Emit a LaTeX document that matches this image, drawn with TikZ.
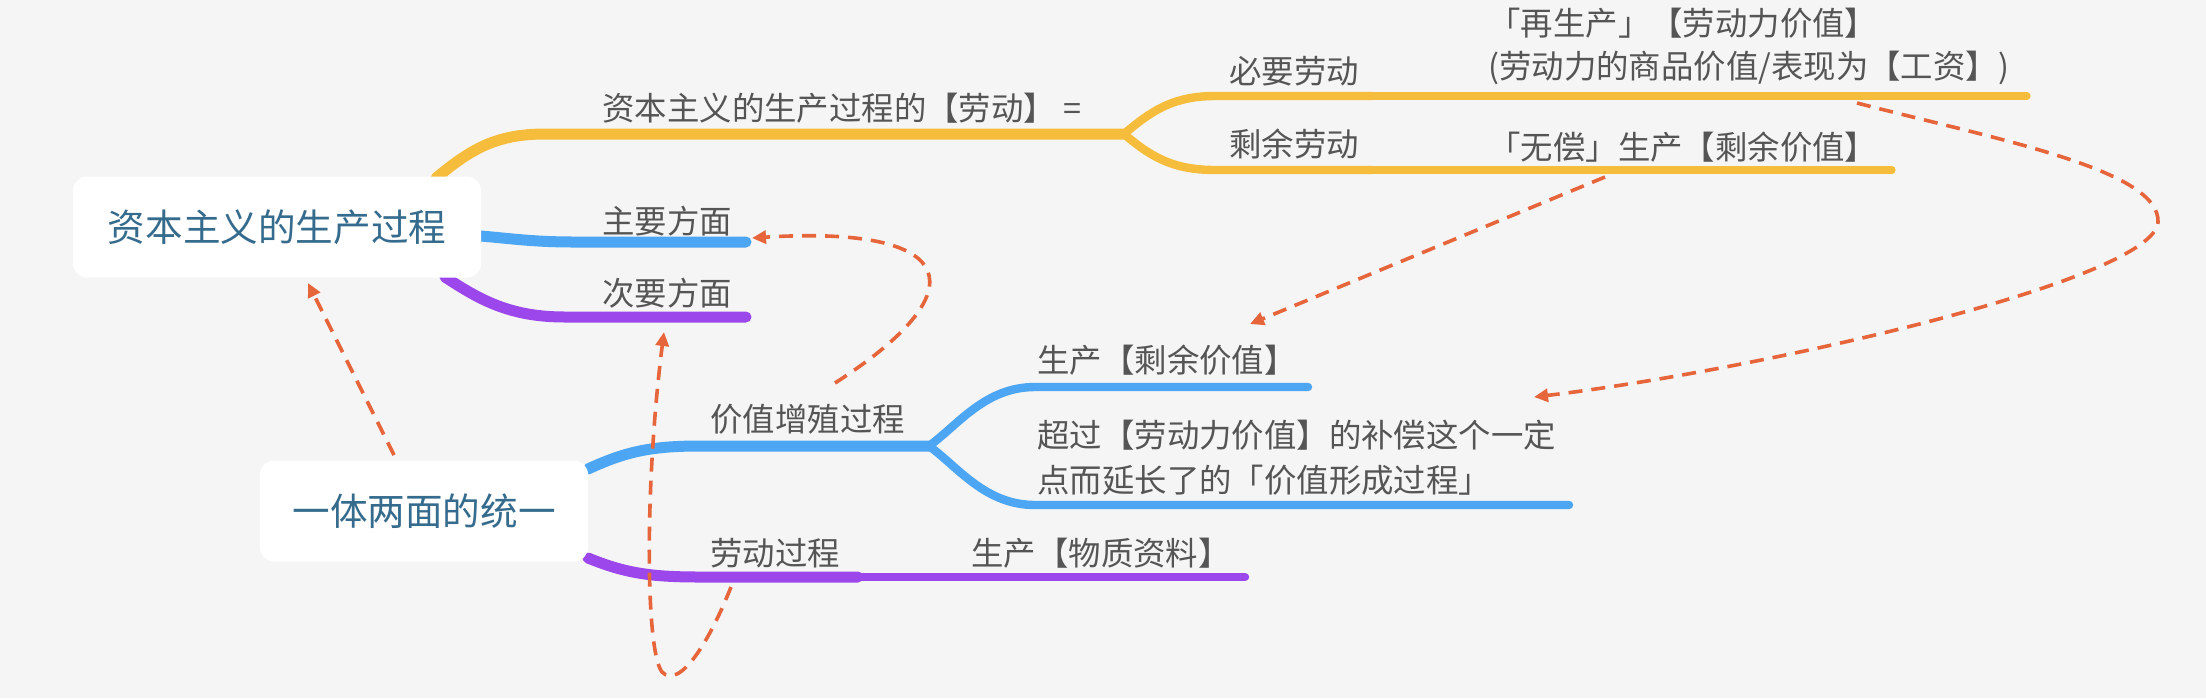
\documentclass[tikz,border=0pt]{standalone}
\usepackage{fontspec}
\setmainfont{Noto Sans CJK SC}
\usetikzlibrary{arrows.meta}
\definecolor{bgc}{HTML}{F5F5F5}
\definecolor{cyel}{HTML}{F6BD3D}
\definecolor{cblue}{HTML}{4DA6F3}
\definecolor{cpur}{HTML}{9B47EC}
\definecolor{corg}{HTML}{E6653B}
\definecolor{ctxt}{HTML}{555555}
\definecolor{croot}{HTML}{356B8C}
\pgfdeclarelayer{bg}
\pgfsetlayers{bg,main}
\begin{document}
\begin{tikzpicture}[x=0.5pt,y=-0.5pt,
  rootbox/.style={fill=white, rounded corners=7pt, inner sep=0pt, text=croot,
    font=\fontsize{18.8}{22}\selectfont},
  lbl/.style={anchor=west, inner sep=0pt, text=ctxt, font=\fontsize{16.2}{21.5}\selectfont},
  lone/.style={line width=5.5pt, line cap=round},
  ltwo/.style={line width=4.2pt, line cap=round},
  lthree/.style={line width=3.6pt, line cap=round},
  rel/.style={corg, line width=1.8pt, dash pattern=on 7pt off 4.5pt,
    -{Triangle[length=7pt,width=6.5pt]}},
]
\begin{pgfonlayer}{bg}
\fill[bgc] (0,0) rectangle (2206,698);
\end{pgfonlayer}
\useasboundingbox (0,0) rectangle (2206,698);

% root topics
\node[rootbox, minimum width=204pt, minimum height=50.5pt] (r1) at (277,227) {资本主义的生产过程};
\node[rootbox, minimum width=164pt, minimum height=50.5pt] (r2) at (424,511) {一体两面的统一};

% labels
\node[lbl] (llab) at (602,108) {资本主义的生产过程的【劳动】 =};
\node[lbl] (lnec) at (1229,71) {必要劳动};
\node[lbl] (lsur) at (1229,144) {剩余劳动};
\node[lbl, align=left] (lrep) at (1488,46.5) {「再生产」【劳动力价值】\\(劳动力的商品价值/表现为【工资】)};
\node[lbl] (lfree) at (1488,147) {「无偿」生产【剩余价值】};
\node[lbl] (lmain) at (602,221) {主要方面};
\node[lbl] (lsec) at (602,293) {次要方面};
\node[lbl] (lval) at (710,419) {价值增殖过程};
\node[lbl] (lsv) at (1037,360) {生产【剩余价值】};
\node[lbl, align=left, font=\fontsize{16.2}{22.5}\selectfont] (lext) at (1037,457.5) {超过【劳动力价值】的补偿这个一定\\点而延长了的「价值形成过程」};
\node[lbl] (lwork) at (710,553) {劳动过程};
\node[lbl] (lmat) at (971,553) {生产【物质资料】};

% branch points
\coordinate (ys) at (436,178);
\coordinate (yf) at (1124,134);
\coordinate (ya) at (1372,96);
\coordinate (yae) at (2027,96);
\coordinate (yb) at (1372,170);
\coordinate (ybe) at (1892,170);
\coordinate (bs) at (481,236);
\coordinate (be) at (746,242);
\coordinate (ps) at (445,277);
\coordinate (pe) at (746,317);
\coordinate (cs) at (588,469);
\coordinate (cf) at (929,446);
\coordinate (cue) at (1308,387);
\coordinate (cde) at (1569,505);
\coordinate (ds) at (588,558);
\coordinate (dm) at (858,577);
\coordinate (de) at (1245,577);

\begin{pgfonlayer}{bg}
% yellow
\draw[cyel, lone] (ys) .. controls (470,150) and (495,134) .. (545,134) -- (yf);
\draw[cyel, ltwo] (yf) .. controls (1150,112) and (1172,96) .. (1215,96) -- (ya);
\draw[cyel, lthree] (ya) -- (yae);
\draw[cyel, ltwo] (yf) .. controls (1150,156) and (1172,170) .. (1215,170) -- (yb);
\draw[cyel, lthree] (yb) -- (ybe);
% blue / purple from root 1
\draw[cblue, lone] (bs) .. controls (515,239) and (535,242) .. (575,242) -- (be);
\draw[cpur, lone] (ps) .. controls (480,300) and (510,317) .. (565,317) -- (pe);
% root 2
\draw[cblue, lone] (cs) .. controls (625,452) and (650,446) .. (700,446) -- (cf);
\draw[cblue, ltwo] (cf) .. controls (958,425) and (985,387) .. (1035,387) -- (cue);
\draw[cblue, ltwo] (cf) .. controls (958,467) and (985,505) .. (1035,505) -- (cde);
\draw[cpur, lone] (ds) .. controls (625,573) and (650,577) .. (700,577) -- (dm);
\draw[cpur, ltwo] (dm) -- (de);
\end{pgfonlayer}

% relation arrows
\coordinate (a1s) at (394,455);
\coordinate (a1e) at (308,283);
\coordinate (a2s) at (835,383);
\coordinate (a2e) at (752,238);
\coordinate (a3s) at (731,587);
\coordinate (a3m) at (662,672);
\coordinate (a3e) at (664,332);
\coordinate (a4s) at (1605,177);
\coordinate (a4e) at (1250,324);
\coordinate (a5s) at (1857,103);
\coordinate (a5m) at (2158,222);
\coordinate (a5e) at (1534,397);

\draw[rel] (a1s) -- (a1e);
\draw[rel] (a2s) .. controls (980,290) and (960,225) .. (a2e);
\draw[rel] (a3s) .. controls (710,640) and (680,690) .. (a3m) .. controls (645,650) and (645,480) .. (a3e);
\draw[rel] (a4s) -- (a4e);
\draw[rel] (a5s) .. controls (2000,140) and (2160,170) .. (a5m) .. controls (2155,280) and (1760,370) .. (a5e);
\end{tikzpicture}
\end{document}
